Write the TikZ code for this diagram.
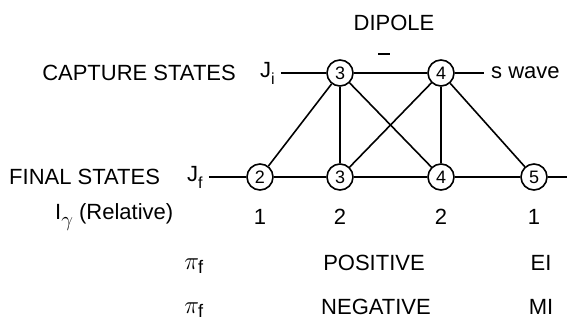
\documentclass[tikz,border=0pt]{standalone}
\usepackage{fontspec}
\setmainfont{Liberation Sans}
\usetikzlibrary{positioning}

\begin{document}
\begin{tikzpicture}[
    x=1pt, y=-1pt,
    lvl/.style={draw, circle, line width=1.6pt, minimum size=26pt, inner sep=0pt, font=\fontsize{18}{18}\selectfont},
    txt/.style={font=\fontsize{22}{22}\selectfont, inner sep=1pt},
    link/.style={line width=1.6pt},
]
\useasboundingbox (0,0) rectangle (577,327);

% levels
\node[lvl] (c3) at (340,73) {3};
\node[lvl] (c4) at (441,73) {4};
\node[lvl] (f2) at (260,177) {2};
\node[lvl] (f3) at (340,177) {3};
\node[lvl] (f4) at (441,177) {4};
\node[lvl] (f5) at (534,177) {5};

% row labels
\node[txt, anchor=east] (capture) at (237,73) {CAPTURE STATES};
\node[txt, anchor=west] (ji) at (259,73) {J\raisebox{-7pt}{\fontsize{16}{16}\selectfont i}};
\node[txt, anchor=west] (swave) at (490,73) {s wave};
\node[txt, anchor=west] (final) at (8,177) {FINAL STATES};
\node[txt, anchor=west] (jf) at (186,177) {J\raisebox{-7pt}{\fontsize{16}{16}\selectfont f}};
\coordinate (fend) at (567,177);

\node[txt] (dipole) at (394,23) {DIPOLE};
\draw[link] (378,54) -- (390,54);

% level lines
\draw[link] ([xshift=5pt]ji.east |- c3) -- (c3) -- (c4) -- ([xshift=-6pt]swave.west);
\draw[link] ([xshift=5pt]jf.east |- f2) -- (f2) -- (f3) -- (f4) -- (f5) -- (fend);

% transitions
\draw[link] (c3) -- (f2);
\draw[link] (c3) -- (f3);
\draw[link] (c3) -- (f4);
\draw[link] (c4) -- (f3);
\draw[link] (c4) -- (f4);
\draw[link] (c4) -- (f5);

% intensities
\node[txt, anchor=west] (irel) at (54,217) {I\raisebox{-7pt}{\fontsize{20}{20}\selectfont$\gamma$} (Relative)};
\node[txt] (n2) at (260,217) {1};
\node[txt] (n3) at (340,217) {2};
\node[txt] (n4) at (441,217) {2};
\node[txt] (n5) at (534,217) {1};

% parities
\node[txt] (pi1) at (194,266) {\fontsize{26}{26}\selectfont$\pi_{\mathrm f}$};
\node[txt] (pos) at (374,263) {POSITIVE};
\node[txt] (e1) at (541,263) {EI};
\node[txt] (pi2) at (194,310) {\fontsize{26}{26}\selectfont$\pi_{\mathrm f}$};
\node[txt] (neg) at (376,307) {NEGATIVE};
\node[txt] (m1) at (541,307) {MI};

\end{tikzpicture}
\end{document}
